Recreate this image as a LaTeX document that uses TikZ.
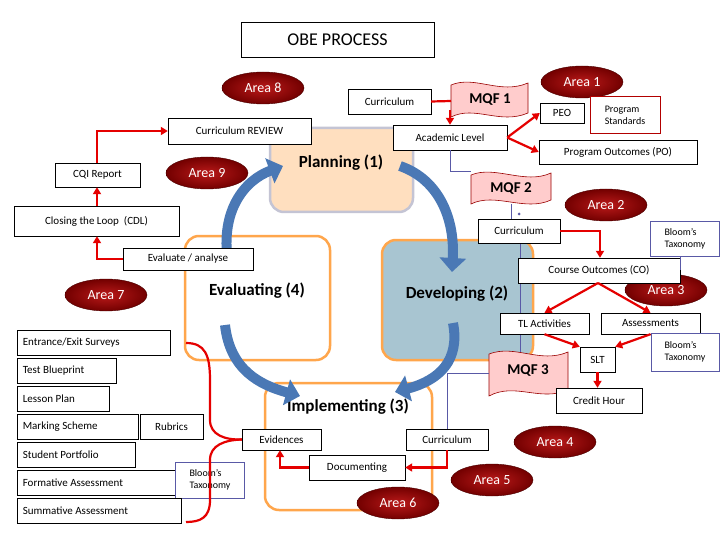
\documentclass[tikz,border=0pt]{standalone}
\usepackage{fontspec}
\setmainfont{Carlito}
\usetikzlibrary{arrows.meta,calc,shapes.geometric}
\definecolor{steel}{HTML}{4A78B5}
\begin{document}
\begin{tikzpicture}[x=1pt,y=-1pt,
  bx/.style={draw=black,fill=white,inner sep=0pt,font=\fontsize{11}{12}\selectfont},
  area/.style={ellipse,inner color=red!70!black!90,outer color=red!45!black,draw=red!30!black,text=white,minimum width=82pt,minimum height=32pt,inner sep=0pt,font=\fontsize{14}{15}\selectfont},
  red line/.style={draw=red!90!black,line width=2.2pt},
  ra/.style={red line,-{Triangle[length=7pt,width=8pt]}},
  bl/.style={draw=blue!30!gray,line width=1pt},
  blt/.style={draw=blue!30!gray,line width=0.8pt},
  big/.style={font=\fontsize{17}{18}\selectfont\bfseries},
  phase/.style={rounded corners=14pt,line width=2.5pt},
  curv/.style={draw=steel,line width=10pt,-{Triangle[length=14pt,width=26pt]}},
  flag/.style={draw=red!60!black,fill=red!20,line width=0.6pt}
]
\useasboundingbox (0,0) rectangle (720,540);
\fill[white] (0,0) rectangle (720,540);
\def\mybx#1#2#3#4#5#6{\node[bx,minimum width={#3-#1},minimum height={#4-#2},align=center,#6] (#5) at ({(#1+#3)/2},{(#2+#4)/2}) {};}
% phases
\draw[phase,fill=orange!25,draw=blue!15!gray!40] (270,128) rectangle (413,212);
\node[big] (plan) at (341,163) {Planning (1)};
\draw[phase,draw=orange!70,fill=white] (185,236) rectangle (330,360);
\node[big] (eval) at (257,291) {Evaluating (4)};
\draw[phase,draw=orange!70,fill=cyan!35!gray!60] (382,240) rectangle (533,360);
\node[big] (dev) at (457,294) {Developing (2)};
\draw[phase,draw=orange!70] (265,383) rectangle (432,510);
\node[big] (impl) at (348,407) {Implementing (3)};
% blue thin connectors (behind boxes)
\draw[blt] (520,243) -- (520,352);
% blue curved arrows
\draw[curv] (228,262) .. controls (220,210) and (245,180) .. (283,166);
\draw[curv] (400,166) .. controls (440,180) and (455,220) .. (452,272);
\draw[curv] (453,323) .. controls (460,360) and (440,380) .. (395,392);
\draw[curv] (225,325) .. controls (230,370) and (260,385) .. (300,396);
% title
\node[draw,minimum width=193pt,minimum height=35pt,font=\fontsize{18}{19}\selectfont] (title) at (337.5,39.5) {OBE PROCESS};
% flags
\draw[flag] (451,85) .. controls (475,75) and (500,95) .. (528,83) -- (528,113) .. controls (500,125) and (475,105) .. (451,117) -- cycle;
\node[font=\fontsize{15}{16}\selectfont\bfseries] (mqf1) at (490,100) {MQF 1};
\draw[flag] (471,175) .. controls (495,165) and (525,185) .. (551,173) -- (551,200) .. controls (525,212) and (495,192) .. (471,204) -- cycle;
\node[font=\fontsize{15}{16}\selectfont\bfseries] (mqf2) at (511,189) {MQF 2};
\draw[flag] (489,354) .. controls (515,344) and (540,364) .. (568,352) -- (568,390) .. controls (540,402) and (515,382) .. (489,396) -- cycle;
\node[font=\fontsize{15}{16}\selectfont\bfseries] (mqf3) at (528,371) {MQF 3};
% areas
\node[area] (a8) at (263,88) {Area 8};
\node[area] (a1) at (582,82) {Area 1};
\node[area] (a9) at (207,173) {Area 9};
\node[area] (a2) at (606,205) {Area 2};
\node[area] (a7) at (106,295) {Area 7};
\node[area] (a3) at (666,290) {Area 3};
\node[area] (a4) at (555,442) {Area 4};
\node[area] (a5) at (492,480) {Area 5};
\node[area] (a6) at (398,503) {Area 6};
% boxes
\mybx{348}{89}{431}{114}{cur1}{}\node at (cur1) {\fontsize{11}{12}\selectfont Curriculum};
\mybx{540}{103}{584}{123}{peo}{}\node at (peo) {\fontsize{11}{12}\selectfont PEO};
\node[draw=red!70!black,fill=white,minimum width=70pt,minimum height=37pt,align=left,font=\fontsize{10}{12}\selectfont] (ps) at (625,115) {Program\\Standards};
\mybx{168}{118}{311}{144}{rev}{}\node at (rev) {\fontsize{11}{12}\selectfont Curriculum REVIEW};
\mybx{393}{125}{507}{150}{acad}{}\node at (acad) {\fontsize{11}{12}\selectfont Academic Level};
\mybx{539}{140}{697}{164}{po}{}\node at (po) {\fontsize{11}{12}\selectfont Program Outcomes (PO)};
\mybx{55}{163}{140}{187}{cqi}{}\node at (cqi) {\fontsize{11}{12}\selectfont CQI Report};
\mybx{14}{206}{179}{236}{cdl}{}\node at (cdl) {\fontsize{11}{12}\selectfont Closing the Loop\ \ (CDL)};
\mybx{478}{219}{560}{243}{cur2}{}\node at (cur2) {\fontsize{11}{12}\selectfont Curriculum};
\node[draw=blue!30!gray,fill=white,minimum width=69pt,minimum height=35pt,align=left,font=\fontsize{10}{12}\selectfont] (bt1) at (685,239) {Bloom's\\Taxonomy};
\mybx{123}{248}{253}{270}{ea}{}\node at (ea) {\fontsize{11}{12}\selectfont Evaluate / analyse};
\mybx{518}{258}{680}{283}{co}{}\node at (co) {\fontsize{11}{12}\selectfont Course Outcomes (CO)};
\mybx{500}{313}{589}{334}{tl}{}\node at (tl) {\fontsize{11}{12}\selectfont TL Activities};
\mybx{601}{313}{700}{334}{as}{}\node at (as) {\fontsize{11}{12}\selectfont Assessments};
\mybx{17}{330}{170}{355}{ent}{}\node[anchor=west] at (ent.west) {\fontsize{11}{12}\selectfont\ Entrance/Exit Surveys};
\mybx{580}{347}{615}{372}{slt}{}\node at (slt) {\fontsize{11}{12}\selectfont SLT};
\node[draw=blue!30!gray,fill=white,minimum width=68pt,minimum height=38pt,align=left,font=\fontsize{10}{12}\selectfont] (bt2) at (685,352) {Bloom's\\Taxonomy};
\mybx{17}{358}{116}{383}{tb}{}\node[anchor=west] at (tb.west) {\fontsize{11}{12}\selectfont\ Test Blueprint};
\mybx{556}{388}{642}{413}{ch}{}\node at (ch) {\fontsize{11}{12}\selectfont Credit Hour};
\mybx{17}{386}{109}{411}{lp}{}\node[anchor=west] at (lp.west) {\fontsize{11}{12}\selectfont\ Lesson Plan};
\mybx{17}{414}{138}{439}{ms}{}\node[anchor=west] at (ms.west) {\fontsize{11}{12}\selectfont\ Marking Scheme};
\mybx{140}{414}{203}{439}{rub}{}\node at (rub) {\fontsize{11}{12}\selectfont Rubrics};
\mybx{242}{429}{321}{450}{evi}{}\node at (evi) {\fontsize{11}{12}\selectfont Evidences};
\mybx{406}{429}{488}{450}{cur3}{}\node at (cur3) {\fontsize{11}{12}\selectfont Curriculum};
\mybx{17}{442}{135}{467}{sp}{}\node[anchor=west] at (sp.west) {\fontsize{11}{12}\selectfont\ Student Portfolio};
\mybx{309}{455}{405}{480}{doc}{}\node at (doc) {\fontsize{11}{12}\selectfont Documenting};
\mybx{17}{470}{178}{495}{fa}{}\node[anchor=west] at (fa.west) {\fontsize{11}{12}\selectfont\ Formative Assessment};
\node[draw=blue!30!gray,fill=white,minimum width=69pt,minimum height=36pt,align=left,font=\fontsize{10}{12}\selectfont] (bt3) at (210,480) {Bloom's\\Taxonomy};
\mybx{17}{498}{181}{523}{sa}{}\node[anchor=west] at (sa.west) {\fontsize{11}{12}\selectfont\ Summative Assessment};
% red connectors
\draw[red line] (cur1.east) -- (451,101);
\draw[ra] (450,110) -- (acad.north -| 450,0);
\draw[ra] (acad.east) -- (peo.west);
\draw[ra] (acad.east) -- (po.west);
\draw[ra] (cur2.east) -| (co.north -| 600,0);
\draw[ra] (598,283) -- (tl.north);
\draw[ra] (598,283) -- (as.north);
\draw[ra] (tl.south) -- (slt.north west);
\draw[ra] (as.south) -- (slt.north east);
\draw[ra] (slt.south) -- (ch.north -| slt.south);
\draw[ra] (cur3.south) |- (doc.east);
\draw[ra] (doc.west) -| (evi.south -| 280,0);
\draw[ra] (ea.west) -| (cdl.south -| 97,0);
\draw[ra] (cdl.north -| 97,0) -- (cqi.south -| 97,0);
\draw[ra] (cqi.north -| 97,0) |- (rev.west);
\draw[red line] (186,343) .. controls (205,343) and (210,355) .. (210,380) -- (210,420) .. controls (210,435) and (225,440) .. (evi.west);
\draw[red line] (evi.west) .. controls (225,440) and (210,445) .. (210,460) -- (210,500) .. controls (210,518) and (200,522) .. (186,522);
% blue thin connectors
\draw[bl] (acad.south -| 450,0) |- (471,172);
\draw[blt] (mqf2 |- 0,204) -- (cur2.north -| mqf2);
\fill[blue!30!gray] (519,214) circle (1.5pt);
\draw[blt] (680,257) -- (680,270);
\draw[blt] (489,373) -- (447,373) -- (cur3.north -| 447,0);
\end{tikzpicture}
\end{document}
